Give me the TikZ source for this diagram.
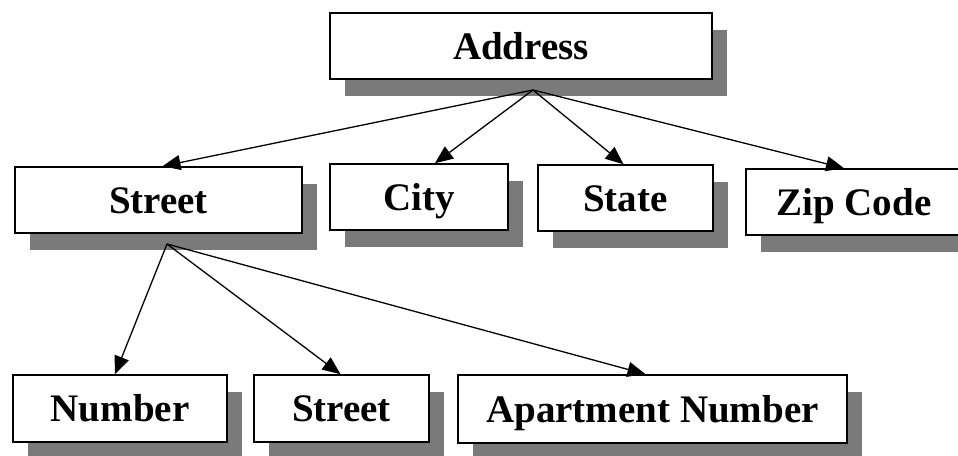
\documentclass[tikz,border=0pt]{standalone}
\usepackage{fontspec}
\setmainfont{Liberation Serif}
\usetikzlibrary{arrows.meta,shadows,calc}
\definecolor{shadowgray}{RGB}{122,122,122}
\tikzset{
  field/.style={draw=black, line width=1.6pt, fill=white, inner sep=0pt,
    font=\fontsize{39}{44}\selectfont\bfseries,
    text height=26pt, text depth=0pt,
    drop shadow={shadow xshift=15pt, shadow yshift=-17pt, opacity=1, fill=shadowgray}},
  link/.style={line width=1.3pt, -{Triangle[length=18pt,width=15pt]}}
}
\begin{document}
\begin{tikzpicture}[x=1pt,y=-1pt]
  \useasboundingbox (0,0) rectangle (958,455);
  \clip (0,0) rectangle (958,455);

  % root
  \node[field, minimum width=382pt, minimum height=66pt] (address) at (521,46) {Address};

  % second level
  \node[field, minimum width=287pt, minimum height=66pt] (street) at (158.5,200) {Street};
  \node[field, minimum width=178pt, minimum height=66pt] (city)   at (419,197)   {City};
  \node[field, minimum width=175pt, minimum height=66pt] (state)  at (625.5,198) {State};
  \node[field, minimum width=216pt, minimum height=66pt] (zip)    at (854,202)   {Zip Code};

  % third level
  \node[field, minimum width=214pt, minimum height=67pt] (number)  at (120,408.5)   {Number};
  \node[field, minimum width=175pt, minimum height=67pt] (street2) at (341.5,408.5) {Street};
  \node[field, minimum width=389pt, minimum height=68pt] (apt)     at (652.5,409)   {Apartment Number};

  % branching points below the parent boxes
  \coordinate (ahub) at (533,90);
  \coordinate (shub) at (167,244);

  \draw[link] (ahub) -- ($(street.north)+(4,0)$);
  \draw[link] (ahub) -- ($(city.north)+(16,0)$);
  \draw[link] (ahub) -- ($(state.north)+(-2,0)$);
  \draw[link] (ahub) -- ($(zip.north)+(-10,0)$);

  \draw[link] (shub) -- ($(number.north)+(-5,0)$);
  \draw[link] (shub) -- ($(street2.north)+(-1,0)$);
  \draw[link] (shub) -- ($(apt.north)+(-7,0)$);
\end{tikzpicture}
\end{document}
